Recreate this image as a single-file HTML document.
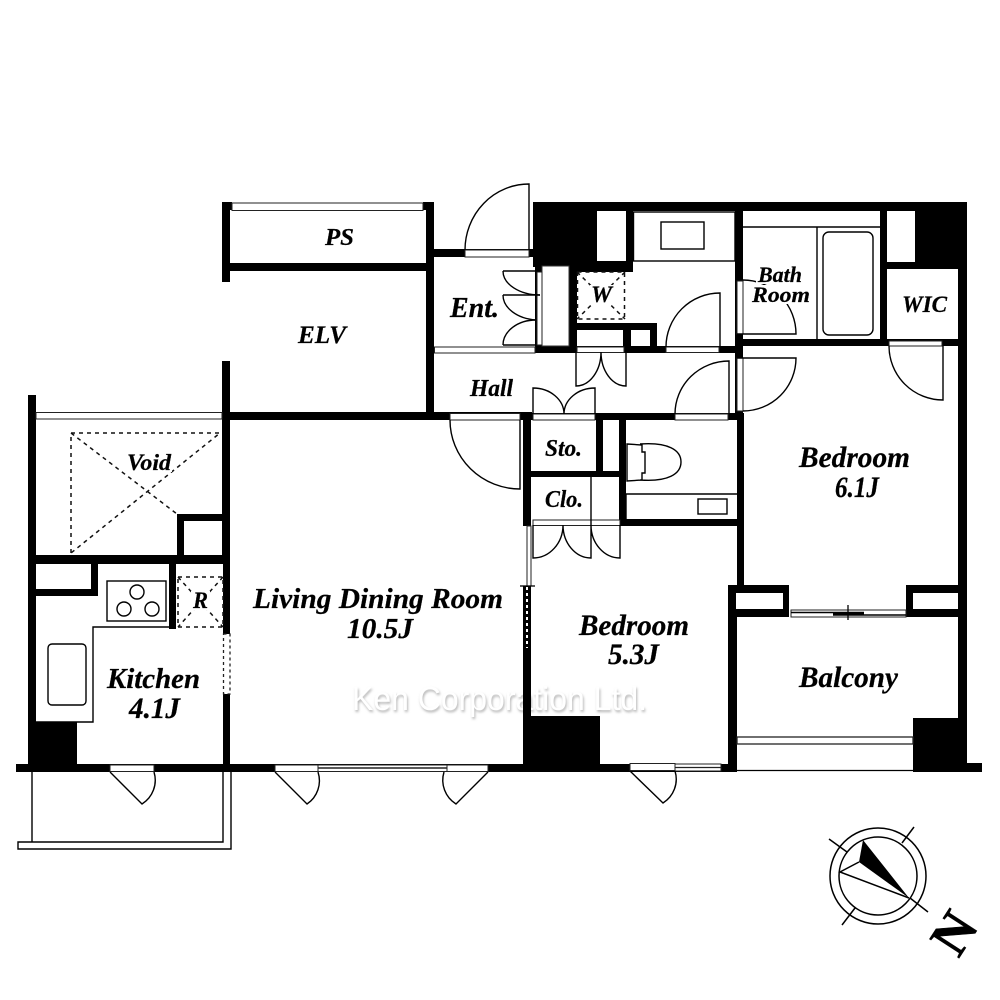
<!DOCTYPE html>
<html><head><meta charset="utf-8"><style>
html,body{margin:0;padding:0;background:#fff}
svg{display:block}
.t{font-family:"Liberation Serif",serif;font-weight:bold;font-style:italic;fill:#000;stroke:#000;stroke-width:.25}
.l{fill:none;stroke:#000;stroke-width:1.4}
.s{fill:#fff;stroke:#222;stroke-width:1}
.d{fill:none;stroke:#111;stroke-width:1.5;stroke-dasharray:4 4}
</style></head><body>
<svg width="1000" height="1000" viewBox="0 0 1000 1000" xmlns="http://www.w3.org/2000/svg">
<defs><filter id="b" x="-5%" y="-30%" width="110%" height="160%"><feGaussianBlur stdDeviation="1.2"/></filter></defs>
<rect width="1000" height="1000" fill="#fff"/>
<!-- watermark (sits beneath the walls) -->
<text x="353" y="712" font-family="'Liberation Sans',sans-serif" font-size="33" textLength="295" lengthAdjust="spacingAndGlyphs" fill="#b4b4b4" filter="url(#b)">Ken Corporation Ltd.</text>
<text x="352" y="710" font-family="'Liberation Sans',sans-serif" font-size="33" textLength="295" lengthAdjust="spacingAndGlyphs" fill="#fff">Ken Corporation Ltd.</text>
<!-- black walls -->
<g fill="#000">
<!-- PS / ELV -->
<rect x="222" y="202" width="8" height="80"/><rect x="222" y="202" width="10" height="8"/><rect x="423" y="202" width="11" height="8"/>
<rect x="222" y="263" width="212" height="8"/><rect x="426" y="202" width="8" height="218"/>
<rect x="222" y="361" width="8" height="52"/><rect x="222" y="412" width="310" height="8"/><rect x="430" y="413" width="307" height="7"/>
<rect x="434" y="249" width="100" height="8"/>
<!-- top mass -->
<rect x="533" y="202" width="434" height="9"/><rect x="533" y="202" width="64" height="65"/><rect x="597" y="261" width="36" height="6"/><rect x="626" y="202" width="7" height="65"/>
<rect x="915" y="202" width="52" height="67"/><rect x="887" y="262" width="30" height="7"/><rect x="958" y="202" width="9" height="570"/>
<rect x="880" y="211" width="7" height="135"/><rect x="735" y="202" width="8" height="218"/><rect x="736" y="339" width="231" height="7"/>
<!-- entrance / laundry -->
<rect x="535" y="261" width="7" height="92"/><rect x="535" y="261" width="98" height="11"/><rect x="569" y="267" width="8" height="86"/>
<rect x="577" y="323" width="80" height="7"/><rect x="623" y="323" width="8" height="30"/><rect x="650" y="323" width="7" height="30"/>
<rect x="535" y="346" width="200" height="7"/>
<!-- Sto/Clo/WC -->
<rect x="523" y="413" width="8" height="113"/><rect x="596" y="413" width="7" height="58"/><rect x="523" y="471" width="103" height="6"/>
<rect x="619" y="413" width="7" height="113"/><rect x="619" y="519" width="125" height="7"/><rect x="737" y="413" width="7" height="175"/>
<rect x="523" y="648" width="8" height="124"/><rect x="523" y="716" width="77" height="56"/>
<!-- bedroom lower boxes -->
<rect x="728" y="585" width="61" height="32"/><rect x="906" y="585" width="61" height="32"/><rect x="728" y="585" width="9" height="187"/>
<rect x="913" y="718" width="54" height="54"/><rect x="967" y="763" width="15" height="9"/>
<!-- bottom wall -->
<rect x="16" y="764" width="721" height="8"/>
<!-- left unit -->
<rect x="28" y="395" width="8" height="377"/><rect x="222" y="412" width="8" height="152"/><rect x="177" y="514" width="53" height="7"/><rect x="177" y="514" width="7" height="50"/>
<rect x="28" y="555" width="202" height="9"/><rect x="91" y="564" width="7" height="32"/><rect x="36" y="589" width="62" height="7"/>
<rect x="169" y="564" width="7" height="65"/><rect x="223" y="564" width="7" height="70"/><rect x="223" y="694" width="7" height="78"/>
<rect x="28" y="722" width="49" height="50"/>
</g>
<!-- white interiors of boxes -->
<rect x="736" y="593" width="47" height="16" fill="#fff"/><rect x="913" y="593" width="45" height="16" fill="#fff"/>
<rect x="542" y="266" width="27" height="80" fill="#fff" stroke="#333" stroke-width="1"/>
<!-- top sills -->
<rect x="232" y="203" width="191" height="7.5" class="s"/>
<rect x="36" y="412.5" width="186" height="6.5" class="s"/>
<rect x="465" y="250" width="64" height="7" class="s"/>
<rect x="434.5" y="347" width="100.5" height="6" class="s"/>
<rect x="537" y="272" width="5" height="73" class="s"/>
<rect x="577" y="347" width="47" height="5.5" class="s"/>
<rect x="666" y="347" width="53" height="5.5" class="s"/>
<rect x="737" y="281" width="6" height="53" class="s"/>
<rect x="737" y="358" width="6" height="53" class="s"/>
<rect x="889" y="341" width="53" height="5" class="s"/>
<rect x="450" y="413.5" width="70" height="6.5" class="s"/>
<rect x="533" y="414" width="62" height="6" class="s"/>
<rect x="675" y="414" width="53" height="6" class="s"/>
<rect x="533" y="520" width="87" height="5.5" class="s"/>
<!-- sliding partitions -->
<rect x="527" y="526" width="4" height="60" class="s"/>
<rect x="523" y="586" width="8" height="62" fill="#000"/>
<line x1="527" y1="587" x2="527" y2="648" stroke="#fff" stroke-width="2" stroke-dasharray="3 3"/>
<line x1="520" y1="586" x2="535" y2="586" stroke="#000" stroke-width="1.3"/>
<!-- bedroom 6 door to balcony -->
<rect x="791" y="610" width="115" height="7" class="s"/>
<path d="M791 612.5H864M833 615H906M833 613.5H864" class="l"/>
<line x1="848" y1="605" x2="848" y2="620" stroke="#000" stroke-width="1.3"/>
<!-- bottom windows -->
<rect x="110" y="765" width="44" height="6.5" class="s"/>
<rect x="275" y="765" width="43" height="6.5" class="s"/>
<rect x="447" y="765" width="41" height="6.5" class="s"/>
<rect x="318" y="765" width="129" height="6.5" class="s"/><line x1="318" y1="768" x2="447" y2="768" stroke="#222" stroke-width="1.5"/>
<rect x="630" y="763.5" width="45" height="7" class="s"/>
<rect x="675" y="764" width="46" height="7" class="s"/><line x1="675" y1="767.5" x2="721" y2="767.5" stroke="#222" stroke-width="1.3"/>
<!-- balcony rails -->
<rect x="737" y="737" width="176" height="7" fill="#fff" stroke="#222" stroke-width="1.3"/>
<line x1="737" y1="770.5" x2="913" y2="770.5" stroke="#000" stroke-width="1.2"/>
<!-- door swings -->
<g class="l">
<path d="M529 250V184A64 66 0 0 0 465 250"/>
<path d="M503 271H540M503 271A37 24 0 0 0 540 295"/>
<path d="M503 295H540M503 295A37 25 0 0 0 536 320"/>
<path d="M503 345H536M503 345A33 25 0 0 1 536 320"/>
<path d="M720 347V293A54 54 0 0 0 666 347"/>
<path d="M576 352V386A25 34 0 0 0 601 352M626 352V386A25 34 0 0 1 601 352"/>
<path d="M533 414V388A31 26 0 0 1 564 414M595 414V388A31 26 0 0 0 564 414"/>
<path d="M729 414V361A54 53 0 0 0 675 414"/>
<path d="M737 334H796A53 54 0 0 0 743 280"/>
<path d="M737 358H796A53 53 0 0 1 743 411"/>
<path d="M943 346V400A54 54 0 0 1 889 346"/>
<path d="M520 420V489A70 69 0 0 1 450 420"/>
<path d="M533 525V558A30 33 0 0 0 563 525M591 477V558A28 33 0 0 1 563 525M620 525V558A29 33 0 0 1 591 525"/>
<path d="M110 772L142 804A28 28 0 0 0 154 772"/>
<path d="M275 772L307 804A28 28 0 0 0 318 772"/>
<path d="M488 772L456 804A28 28 0 0 1 444 772"/>
<path d="M630 771L663 803A28 28 0 0 0 675 771"/>
</g>
<!-- fixtures -->
<g class="l">
<rect x="633.5" y="212" width="101.5" height="49"/><rect x="661" y="222" width="43" height="27"/>
<path d="M743 227H880M817 227V339"/><rect x="823" y="232" width="50" height="103" rx="6"/>
<rect x="107" y="581" width="59" height="40"/><circle cx="137" cy="592" r="7"/><circle cx="124" cy="609" r="7"/><circle cx="152" cy="609" r="7"/>
<path d="M176 627H93V722H36"/><rect x="48" y="644" width="38" height="61" rx="4"/>
<path d="M640 444C668 442 681 450 681 462C681 474 668 482 640 480M627 444L642 445V452L645 452V473L642 473V480L627 481Z"/>
<path d="M626 494H737M626 519V494"/><rect x="698" y="499" width="29" height="15"/>
<!-- balcony outline -->
<path d="M32 772V842M223 772V842H18V849H231V772"/>
</g>
<!-- dashed -->
<path class="d" d="M71 553V433H220L71 553M71 433L177 514"/>
<rect x="577.5" y="272" width="47" height="47" class="d"/>
<path class="d" d="M577 272L625 319M625 272L577 319"/>
<rect x="178" y="577" width="45" height="50" class="d"/>
<path class="d" d="M178 577L223 627M223 577L178 627"/>
<rect x="223.500" y="634" width="6.500" height="60" fill="#fff" stroke="#222" stroke-width="1.300" stroke-dasharray="3 3"/>
<!-- white backs for labels over dashes and swings -->
<rect x="126" y="452" width="46" height="20" fill="#fff"/><rect x="590" y="285" width="24" height="19" fill="#fff"/><rect x="191" y="591" width="19" height="19" fill="#fff"/>
<rect x="756" y="266" width="46" height="18" fill="#fff"/><rect x="751" y="285" width="60" height="19" fill="#fff"/>
<!-- labels -->
<g class="t">
<text x="325" y="245" font-size="24" textLength="29" lengthAdjust="spacingAndGlyphs">PS</text>
<text x="298" y="343" font-size="25" textLength="48" lengthAdjust="spacingAndGlyphs">ELV</text>
<text x="450" y="317" font-size="28" textLength="49" lengthAdjust="spacingAndGlyphs">Ent.</text>
<text x="470" y="396" font-size="24" textLength="43" lengthAdjust="spacingAndGlyphs">Hall</text>
<text x="591" y="302" font-size="23" textLength="21" lengthAdjust="spacingAndGlyphs">W</text>
<text x="758" y="282" font-size="22" textLength="44" lengthAdjust="spacingAndGlyphs">Bath</text>
<text x="752" y="302" font-size="22" textLength="58" lengthAdjust="spacingAndGlyphs">Room</text>
<text x="902" y="312" font-size="23" textLength="45" lengthAdjust="spacingAndGlyphs">WIC</text>
<text x="545" y="456" font-size="24" textLength="37" lengthAdjust="spacingAndGlyphs">Sto.</text>
<text x="545" y="507" font-size="24" textLength="38" lengthAdjust="spacingAndGlyphs">Clo.</text>
<text x="127" y="470" font-size="23" textLength="44" lengthAdjust="spacingAndGlyphs">Void</text>
<text x="193" y="608" font-size="23" textLength="15" lengthAdjust="spacingAndGlyphs">R</text>
<text x="107" y="688" font-size="29" textLength="93" lengthAdjust="spacingAndGlyphs">Kitchen</text>
<text x="129" y="718" font-size="30" textLength="51" lengthAdjust="spacingAndGlyphs">4.1J</text>
<text x="253" y="608" font-size="29" textLength="250" lengthAdjust="spacingAndGlyphs">Living Dining Room</text>
<text x="347" y="638" font-size="29" textLength="66" lengthAdjust="spacingAndGlyphs">10.5J</text>
<text x="579" y="635" font-size="30" textLength="110" lengthAdjust="spacingAndGlyphs">Bedroom</text>
<text x="608" y="664" font-size="30" textLength="51" lengthAdjust="spacingAndGlyphs">5.3J</text>
<text x="799" y="467" font-size="30" textLength="111" lengthAdjust="spacingAndGlyphs">Bedroom</text>
<text x="835" y="497" font-size="30" textLength="44" lengthAdjust="spacingAndGlyphs">6.1J</text>
<text x="799" y="687" font-size="30" textLength="99" lengthAdjust="spacingAndGlyphs">Balcony</text>
</g>
<!-- compass -->
<g fill="none" stroke="#000" stroke-width="1.5">
<circle cx="878" cy="876" r="48"/><circle cx="878" cy="876" r="39"/>
<path d="M829 839L847 852M914 827L902 843M842 925L855 908M928 912L910 898"/>
<path d="M859 862L840 872L909 898"/>
</g>
<polygon points="863,840 859,862 909,898" fill="#000"/>
<text transform="translate(954 933) rotate(-57)" text-anchor="middle" y="18" font-family="'Liberation Serif',serif" font-weight="bold" font-size="54" fill="#000" stroke="#000" stroke-width=".5">N</text>
</svg>
</body></html>
